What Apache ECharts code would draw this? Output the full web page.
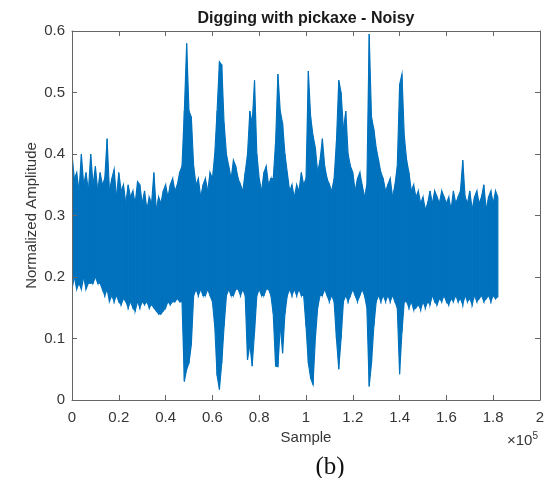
<!DOCTYPE html>
<html>
<head>
<meta charset="utf-8">
<script src="https://cdn.jsdelivr.net/npm/echarts@6/dist/echarts.min.js"></script>
<style>html,body{margin:0;padding:0;background:#fff}#c{width:555px;height:478px}</style>
</head>
<body>
<div id="c"></div>
<script>
// Envelope of the noisy signal, one value per 1000 samples (0 .. 182000)
const sampleStep = 1000;
const upperEnvelope = [
0.40,0.36,0.37,0.34,0.40,0.35,0.37,0.34,0.40,0.35,
0.38,0.34,0.37,0.35,0.36,0.425,0.34,0.36,0.375,0.33,
0.37,0.34,0.35,0.32,0.35,0.33,0.34,0.32,0.355,0.35,
0.32,0.34,0.31,0.33,0.32,0.37,0.31,0.33,0.32,0.34,
0.35,0.33,0.35,0.36,0.34,0.35,0.37,0.38,0.47,0.58,
0.47,0.46,0.38,0.35,0.36,0.33,0.35,0.36,0.34,0.37,
0.36,0.40,0.47,0.55,0.545,0.45,0.40,0.38,0.36,0.39,
0.38,0.36,0.35,0.34,0.37,0.40,0.47,0.45,0.52,0.40,
0.36,0.34,0.37,0.38,0.35,0.36,0.36,0.42,0.53,0.47,
0.45,0.40,0.37,0.34,0.35,0.33,0.35,0.34,0.37,0.35,
0.36,0.535,0.46,0.43,0.41,0.37,0.39,0.425,0.38,0.36,
0.35,0.34,0.36,0.42,0.52,0.50,0.44,0.47,0.40,0.38,
0.37,0.34,0.36,0.37,0.35,0.33,0.35,0.595,0.46,0.44,
0.41,0.39,0.37,0.36,0.34,0.35,0.36,0.33,0.35,0.38,
0.513,0.53,0.43,0.39,0.37,0.34,0.35,0.33,0.34,0.32,
0.33,0.31,0.32,0.34,0.32,0.34,0.33,0.32,0.34,0.33,
0.32,0.33,0.31,0.34,0.32,0.33,0.34,0.39,0.33,0.32,
0.34,0.31,0.33,0.34,0.32,0.33,0.35,0.31,0.33,0.34,
0.32,0.34,0.33
];
const lowerEnvelope = [
0.18,0.20,0.18,0.19,0.18,0.20,0.18,0.19,0.19,0.19,
0.20,0.19,0.19,0.18,0.17,0.18,0.16,0.17,0.16,0.17,
0.16,0.155,0.165,0.16,0.15,0.16,0.15,0.145,0.16,0.15,
0.16,0.155,0.16,0.15,0.155,0.15,0.145,0.14,0.14,0.145,
0.15,0.16,0.155,0.16,0.16,0.165,0.16,0.16,0.03,0.05,
0.06,0.09,0.17,0.18,0.17,0.18,0.17,0.17,0.18,0.17,
0.16,0.12,0.04,0.017,0.06,0.12,0.17,0.18,0.17,0.17,
0.18,0.18,0.17,0.18,0.17,0.065,0.09,0.055,0.11,0.17,
0.18,0.17,0.17,0.18,0.18,0.17,0.14,0.055,0.054,0.12,
0.076,0.14,0.17,0.18,0.17,0.18,0.17,0.18,0.17,0.17,
0.12,0.06,0.035,0.025,0.10,0.15,0.17,0.17,0.18,0.17,
0.16,0.17,0.16,0.10,0.05,0.10,0.16,0.17,0.16,0.17,
0.18,0.17,0.16,0.17,0.18,0.17,0.15,0.022,0.06,0.12,
0.16,0.17,0.16,0.17,0.16,0.17,0.16,0.17,0.16,0.15,
0.042,0.11,0.16,0.16,0.15,0.16,0.147,0.15,0.155,0.147,
0.16,0.15,0.16,0.155,0.17,0.16,0.155,0.165,0.16,0.17,
0.16,0.155,0.165,0.16,0.17,0.16,0.165,0.155,0.17,0.16,
0.165,0.155,0.17,0.16,0.165,0.17,0.16,0.165,0.17,0.16,
0.17,0.165,0.168
];
const xTickValues = [0, 20000, 40000, 60000, 80000, 100000, 120000, 140000, 160000, 180000, 200000];
const yTickValues = [0, 0.1, 0.2, 0.3, 0.4, 0.5, 0.6];
const titleText = 'Digging with pickaxe - Noisy';
const xName = 'Sample';
const yName = 'Normalized Amplitude';
const caption = '(b)';

const FONT = '"Liberation Sans", Arial, Helvetica, sans-serif';
const BLUE = '#0072BD';
const AXIS = '#666666';
const TEXT = '#363636';

// one item per bin: [sample, lower, upper]
const bandData = upperEnvelope.map((u, i) => [i * sampleStep, lowerEnvelope[i], u]);

function renderBand(params, api) {
  const i = params.dataIndexInside;
  if (i >= params.dataInsideLength - 1) return null;
  const x0 = api.value(0, i), l0 = api.value(1, i), u0 = api.value(2, i);
  const x1 = api.value(0, i + 1), l1 = api.value(1, i + 1), u1 = api.value(2, i + 1);
  const pts = [api.coord([x0, u0]), api.coord([x1, u1]), api.coord([x1, l1]), api.coord([x0, l0])];
  return {
    type: 'polygon',
    shape: {points: pts},
    style: {fill: BLUE, stroke: BLUE, lineWidth: 1.1}
  };
}

const chart = echarts.init(document.getElementById('c'), null, {renderer: 'canvas'});
const tickCommon = {show: true, inside: true, length: 5, lineStyle: {color: AXIS, width: 1}};
const xMin = xTickValues[0], xMax = xTickValues[xTickValues.length - 1];
const xInt = xTickValues[1] - xTickValues[0];
const yMin = yTickValues[0], yMax = yTickValues[yTickValues.length - 1];
const yInt = +(yTickValues[1] - yTickValues[0]).toFixed(2);
chart.setOption({
  animation: false,
  backgroundColor: '#fff',
  grid: {left: 72, right: 15, top: 31, bottom: 78, containLabel: false},
  xAxis: [{
    type: 'value', min: xMin, max: xMax, interval: xInt, position: 'bottom', z: 10,
    axisLine: {show: true, onZero: false, lineStyle: {color: AXIS, width: 1}},
    axisTick: tickCommon,
    splitLine: {show: false},
    axisLabel: {margin: 10, color: TEXT, fontSize: 15, fontFamily: FONT,
      formatter: v => String(+(v / 100000).toFixed(1))},
    name: xName, nameLocation: 'middle', nameGap: 30, nameMoveOverlap: false,
    nameTextStyle: {color: TEXT, fontSize: 15, fontFamily: FONT}
  }, {
    type: 'value', min: xMin, max: xMax, interval: xInt, position: 'top', z: 10,
    axisLine: {show: true, onZero: false, lineStyle: {color: AXIS, width: 1}},
    axisTick: tickCommon, axisLabel: {show: false}, splitLine: {show: false}
  }],
  yAxis: [{
    type: 'value', min: yMin, max: yMax, interval: yInt, position: 'left', z: 10,
    axisLine: {show: true, onZero: false, lineStyle: {color: AXIS, width: 1}},
    axisTick: tickCommon,
    splitLine: {show: false},
    axisLabel: {margin: 7, color: TEXT, fontSize: 15, fontFamily: FONT,
      formatter: v => String(+v.toFixed(1))},
    name: yName, nameLocation: 'middle', nameGap: 33, nameMoveOverlap: false,
    nameTextStyle: {color: TEXT, fontSize: 15, fontFamily: FONT}
  }, {
    type: 'value', min: yMin, max: yMax, interval: yInt, position: 'right', z: 10,
    axisLine: {show: true, onZero: false, lineStyle: {color: AXIS, width: 1}},
    axisTick: tickCommon, axisLabel: {show: false}, splitLine: {show: false}
  }],
  series: [{
    type: 'custom', data: bandData, renderItem: renderBand, silent: true, clip: true,
    encode: {x: 0, y: [1, 2]}, z: 2
  }],
  graphic: [
    {type: 'text', x: 306, y: 19, style: {text: titleText, font: 'bold 16px ' + FONT, fill: '#1a1a1a', align: 'center', verticalAlign: 'middle'}},
    {type: 'text', x: 507, y: 441, style: {
      text: '{a|×10}{b|5}', fill: TEXT, align: 'left', verticalAlign: 'middle',
      rich: {a: {fontSize: 15, fontFamily: FONT, color: TEXT}, b: {fontSize: 10, fontFamily: FONT, color: TEXT, padding: [0, 0, 9, 0]}}}},
    {type: 'text', x: 330, y: 467, style: {text: caption, font: '25px "Liberation Serif", "Times New Roman", serif', fill: '#111', align: 'center', verticalAlign: 'middle'}}
  ]
});
</script>
</body>
</html>
